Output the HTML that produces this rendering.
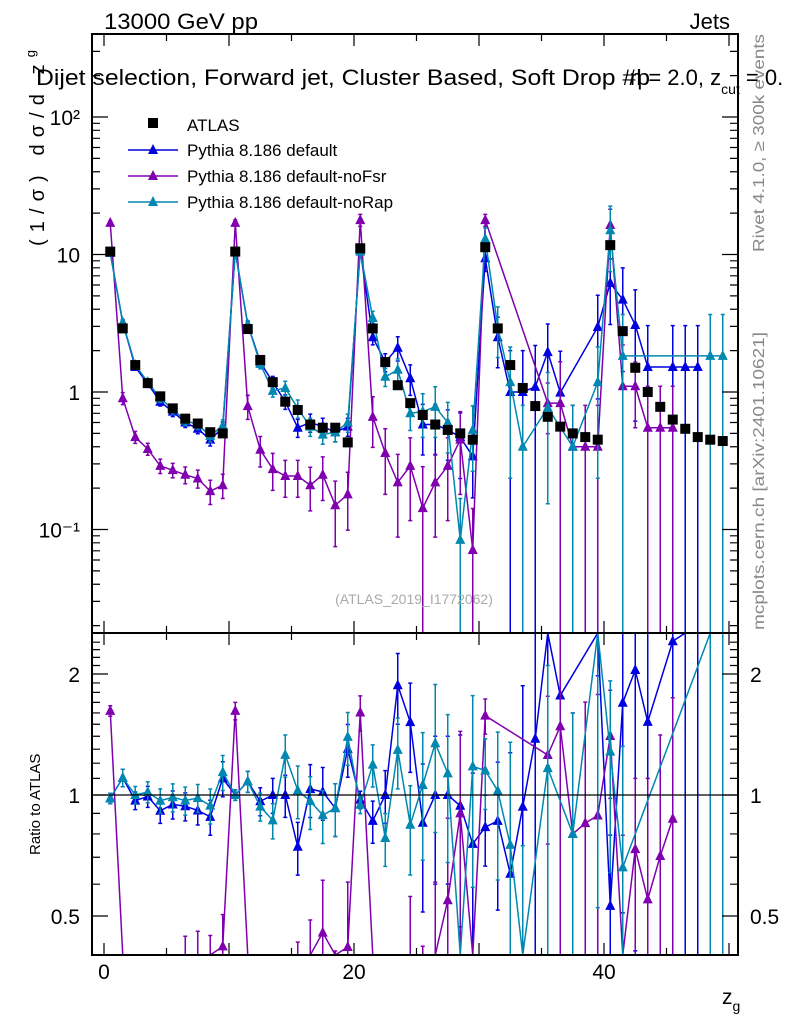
<!DOCTYPE html>
<html><head><meta charset="utf-8"><style>
body{margin:0;background:#fff}
svg{display:block;font-family:"Liberation Sans",sans-serif}
</style></head><body>
<svg id="chart" width="786" height="1024" viewBox="0 0 786 1024" xmlns="http://www.w3.org/2000/svg">
<rect x="0" y="0" width="786" height="1024" fill="#fff"/>
<g id="main-marks"></g>
<g id="ratio-marks"></g>
<g id="axes"></g>
<text x="104" y="29" font-size="22" textLength="154" lengthAdjust="spacingAndGlyphs">13000 GeV pp</text>
<text x="730" y="29" font-size="22" text-anchor="end">Jets</text>
<text x="36" y="85" font-size="22" textLength="614" lengthAdjust="spacingAndGlyphs">Dijet selection, Forward jet, Cluster Based, Soft Drop #b</text>
<text x="630" y="85" font-size="22">η = 2.0, z<tspan font-size="14" dy="9">cut</tspan><tspan dy="-9"> = 0.</tspan></text>
<text transform="translate(44,246) rotate(-90)" font-size="20" textLength="196" lengthAdjust="spacing">(1/σ) dσ/d z<tspan font-size="13" dy="-9">g</tspan></text>
<text transform="translate(40,855) rotate(-90)" font-size="15">Ratio to ATLAS</text>
<text x="722" y="1004" font-size="21">z<tspan font-size="14" dy="7">g</tspan></text>
<text transform="translate(764,252) rotate(-90)" font-size="16" fill="#888" textLength="218" lengthAdjust="spacingAndGlyphs">Rivet 4.1.0, ≥ 300k events</text>
<text transform="translate(764,630) rotate(-90)" font-size="16" fill="#888" textLength="298" lengthAdjust="spacingAndGlyphs">mcplots.cern.ch [arXiv:2401.10621]</text>
<text x="414" y="604" font-size="14" fill="#aaa" text-anchor="middle">(ATLAS_2019_I1772062)</text>
<g id="legend"></g>
</svg>
<script>
const bins = Array.from({length:50},(_, i)=>i+0.5);
const atlasVals = [10.5,2.9,1.57,1.16,0.93,0.76,0.64,0.59,0.51,0.5,
 10.5,2.87,1.71,1.18,0.85,0.74,0.58,0.55,0.55,0.43,
 11.1,2.9,1.65,1.12,0.83,0.68,0.58,0.53,0.5,0.45,
 11.3,2.9,1.57,1.07,0.79,0.66,0.56,0.5,0.47,0.45,
 11.7,2.77,1.5,1.0,0.78,0.63,0.54,0.47,0.45,0.44];
const blueVals = [10.3,3.2,1.52,1.15,0.85,0.72,0.6,0.54,0.45,0.55,
 10.5,3.1,1.65,1.18,0.85,0.55,0.6,0.56,0.51,0.56,
 10.8,2.5,1.65,2.1,1.26,0.58,0.58,0.53,0.47,0.34,
 9.4,2.5,1.0,1.0,1.09,1.95,0.99,null,null,2.97,
 6.2,4.7,3.07,1.52,null,1.52,1.52,1.52,null,null];
const purpleVals = [17,0.9,0.47,0.385,0.29,0.27,0.25,0.235,0.19,0.21,
 17,0.79,0.38,0.275,0.245,0.245,0.21,0.25,0.15,0.18,
 17.8,0.66,0.36,0.22,0.29,0.143,0.22,0.29,0.45,0.071,
 17.8,null,null,null,null,0.83,0.83,0.4,0.4,0.4,
 16.4,1.1,1.1,0.55,0.55,0.55,null,null,null,null];
const cyanVals = [10.3,3.2,1.57,1.18,0.9,0.75,0.62,0.58,0.48,0.57,
 10.5,3.1,1.6,1.02,1.07,0.76,0.56,0.49,0.51,0.6,
 10.5,3.45,1.29,1.45,0.7,0.72,0.78,0.6,0.084,0.53,
 13,2.97,1.18,0.4,null,0.77,null,0.4,null,1.18,
 15,1.83,null,null,null,null,null,null,1.83,1.83];
const blueErr = [0.03,0.05,0.05,0.06,0.07,0.08,0.08,0.08,0.1,0.1,
 0.03,0.06,0.08,0.1,0.12,0.15,0.15,0.15,0.15,0.15,
 0.05,0.12,0.15,0.2,0.25,0.4,0.4,0.4,0.5,0.5,
 0.2,0.4,1,1,1,0.6,1,0,0,0.7,
 0.5,0.7,0.8,1,0,1,1,1,0,0];
const purpleErr = [0.03,0.1,0.1,0.1,0.12,0.12,0.14,0.15,0.2,0.2,
 0.05,0.2,0.25,0.3,0.3,0.3,0.35,0.35,0.5,0.45,
 0.1,0.4,0.5,0.6,0.6,1,0.6,0.6,0.6,1,
 0.1,0,0,0,0,0.4,1,1,1,1,
 0.3,1,0.5,1,1,1,0,0,0,0];
const cyanErr = [0.03,0.05,0.05,0.06,0.07,0.08,0.08,0.08,0.1,0.1,
 0.03,0.06,0.08,0.1,0.12,0.15,0.15,0.15,0.15,0.15,
 0.05,0.12,0.15,0.2,0.25,0.35,0.4,0.4,1,0.5,
 0.2,0.4,0.8,1,0,0.8,0,1,0,0.8,
 0.5,1,0,0,0,0,0,0,1,1];
const seriesNames = ["Pythia 8.186 default","Pythia 8.186 default-noFsr","Pythia 8.186 default-noRap"];
const mainTicks = [[100,"10²"],[10,"10"],[1,"1"],[0.1,"10⁻¹"]];
const ratioTicks = [2,1,0.5];
const xTicks = [0,20,40];

const NS="http://www.w3.org/2000/svg";
const L=92,R=738,MT=34,MB=633,RT=633,RB=955;
const X=v=>104+v*12.5;
const YM=v=>392-Math.log10(v)*137.5;
const YR=v=>795-Math.log2(v)*121;
const clampM=y=>Math.max(MT,Math.min(MB,y));
const clampR=y=>Math.max(RT,Math.min(RB,y));
function mk(tag,attrs,parent){const e=document.createElementNS(NS,tag);for(const k in attrs)e.setAttribute(k,attrs[k]);parent.appendChild(e);return e;}
const gm=document.getElementById('main-marks'),gr=document.getElementById('ratio-marks'),ga=document.getElementById('axes'),gl=document.getElementById('legend');
function tri(x,y,c,parent,name){const t=mk('polygon',{points:`${x-5},${y+4} ${x+5},${y+4} ${x},${y-6}`,fill:c},parent);

}
const cols=["#0000e0","#8000b0","#0088b0"];
const vals=[blueVals,purpleVals,cyanVals],errs=[blueErr,purpleErr,cyanErr];
const keys=["default","nofsr","norap"];
vals.forEach((vs,s)=>{
  const c=cols[s];
  let pts=[],rpts=[];
  vs.forEach((v,i)=>{ if(v==null)return;
    const x=X(bins[i]),y=YM(v),e=errs[s][i];
    pts.push([x,clampM(y)]);
    const r=v/atlasVals[i];rpts.push([x,clampR(YR(r))]);
    if(e>0){
      const lo=v*(1-e)>0?clampM(YM(v*(1-e))):MB, hi=clampM(YM(v*(1+e)));
      const eb=mk('path',{d:`M${x},${lo}V${hi}M${x-2},${lo}h4M${x-2},${hi}h4`,stroke:c,'stroke-width':1.5,fill:'none'},gm);
      
      
      const rlo=r*(1-e)>0?clampR(YR(r*(1-e))):RB, rhi=clampR(YR(r*(1+e)));
      const re=mk('path',{d:`M${x},${rlo}V${rhi}M${x-2},${rlo}h4M${x-2},${rhi}h4`,stroke:c,'stroke-width':1.5,fill:'none'},gr);
      
      
    }
  });
  const ln=mk('polyline',{points:pts.map(p=>p.join(',')).join(' '),stroke:c,'stroke-width':1.5,fill:'none'},gm);
  
  
  const rl=mk('polyline',{points:rpts.map(p=>p.join(',')).join(' '),stroke:c,'stroke-width':1.5,fill:'none'},gr);
  
  
  pts.forEach(p=>{ if(p[1]>MT&&p[1]<MB) tri(p[0],p[1],c,gm,'point-'+keys[s]); });
  rpts.forEach(p=>{ if(p[1]>RT&&p[1]<RB) tri(p[0],p[1],c,gr,'ratio-point-'+keys[s]); });
});
atlasVals.forEach((v,i)=>{
  const sq=mk('rect',{x:X(bins[i])-5,y:YM(v)-5,width:10,height:10,fill:'#000'},gm);
  
  
});
const ref=mk('line',{x1:L,x2:R,y1:YR(1),y2:YR(1),stroke:'#000','stroke-width':1.2},gr);


[[MT,MB],[RT,RB]].forEach((f,k)=>{
  const fr=mk('rect',{x:L,y:f[0],width:R-L,height:f[1]-f[0],fill:'none',stroke:'#000','stroke-width':2},ga);
  
  
  for(let t=0;t<=50;t+=5){const x=X(t),len=t%10===0?12:7;
    const tk=mk('path',{d:`M${x},${f[1]}v-${len}M${x},${f[0]}v${len}`,stroke:'#000','stroke-width':1.2},ga);
    
    }
});
for(let d=-2;d<=2;d++)for(let m=1;m<10;m++){const v=m*Math.pow(10,d),y=YM(v);if(y<MT||y>MB)continue;
  const len=m===1?16:8;
  const tk=mk('path',{d:`M${L},${y}h${len}M${R},${y}h-${len}`,stroke:'#000','stroke-width':1.2},ga);
  
  }
mainTicks.forEach(t=>{const tx=mk('text',{x:80,y:YM(t[0])+8,'font-size':21,'text-anchor':'end'},ga);tx.textContent=t[1];
  
  });
for(let v=0.4;v<=2.5;v+=0.1){const y=YR(v);if(y<RT||y>RB)continue;
  const maj=ratioTicks.some(r=>Math.abs(r-v)<1e-6);const len=maj?16:8;
  const tk=mk('path',{d:`M${L},${y}h${len}M${R},${y}h-${len}`,stroke:'#000','stroke-width':1.2},ga);
  
  }
ratioTicks.forEach(t=>{[[80,'end'],[750,'start']].forEach(p=>{const tx=mk('text',{x:p[0],y:YR(t)+8,'font-size':21,'text-anchor':p[1]},ga);tx.textContent=String(t);
  
  });});
xTicks.forEach(t=>{const tx=mk('text',{x:X(t),y:979,'font-size':21,'text-anchor':'middle'},ga);tx.textContent=String(t);
  
  });
const ls=mk('rect',{x:148,y:118,width:10,height:10,fill:'#000'},gl);


const lt=mk('text',{x:187,y:131,'font-size':17},gl);lt.textContent="ATLAS";


seriesNames.forEach((n,s)=>{const y=150+s*26;
  const l=mk('line',{x1:128,x2:178,y1:y,y2:y,stroke:cols[s],'stroke-width':1.5},gl);
  
  
  tri(153,y,cols[s],gl,'legend-marker-'+keys[s]);
  const t=mk('text',{x:187,y:y+6,'font-size':17},gl);t.textContent=n;
  
  });
</script>
</body></html>
